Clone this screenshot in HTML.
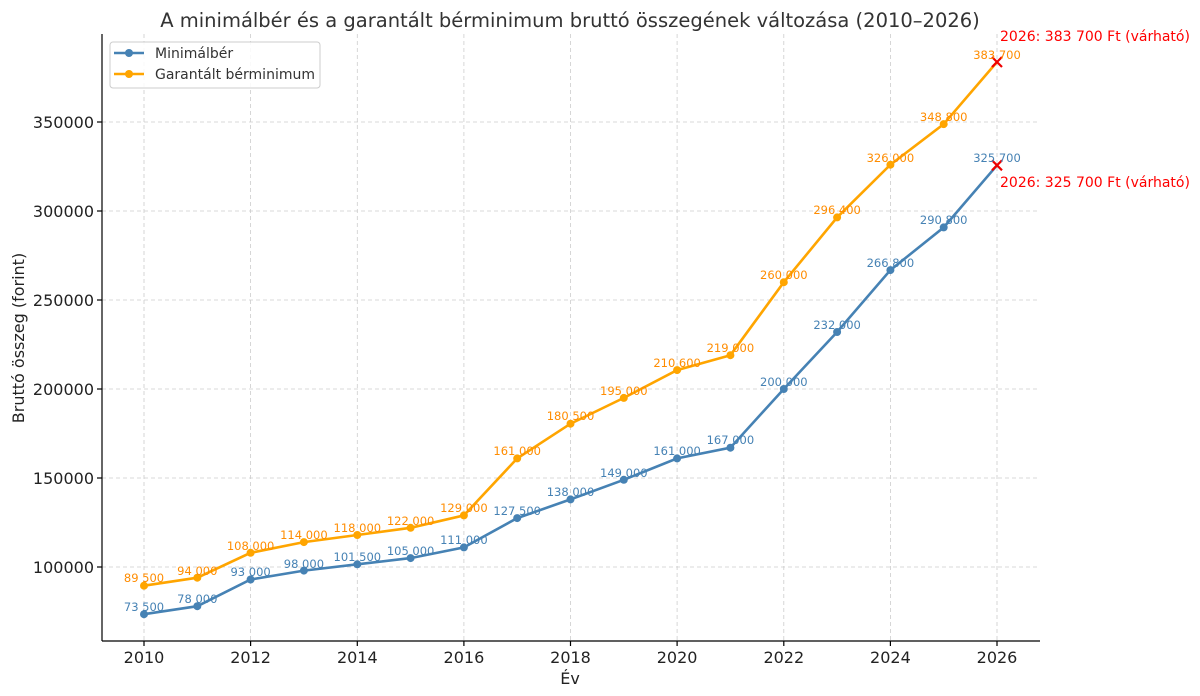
<!DOCTYPE html>
<html><head><meta charset="utf-8"><style>body{margin:0;background:#fff}svg{display:block;font-family:"DejaVu Sans","Liberation Sans",sans-serif}</style></head><body>
<svg width="1200" height="696" viewBox="0 0 1200 696">
<text x="570" y="27" font-size="19.5" text-anchor="middle" fill="#333">A minimálbér és a garantált bérminimum bruttó összegének változása (2010–2026)</text>
<g stroke="#ccc" stroke-dasharray="4,3" stroke-width="0.8">
<line x1="144" y1="34" x2="144" y2="641"/><line x1="250.6" y1="34" x2="250.6" y2="641"/><line x1="357.3" y1="34" x2="357.3" y2="641"/><line x1="463.9" y1="34" x2="463.9" y2="641"/><line x1="570.5" y1="34" x2="570.5" y2="641"/><line x1="677.1" y1="34" x2="677.1" y2="641"/><line x1="783.8" y1="34" x2="783.8" y2="641"/><line x1="890.4" y1="34" x2="890.4" y2="641"/><line x1="997" y1="34" x2="997" y2="641"/>
<line x1="102" y1="567" x2="1040" y2="567"/><line x1="102" y1="478" x2="1040" y2="478"/><line x1="102" y1="389" x2="1040" y2="389"/><line x1="102" y1="300" x2="1040" y2="300"/><line x1="102" y1="211" x2="1040" y2="211"/><line x1="102" y1="122" x2="1040" y2="122"/>
</g>
<g stroke="#000" stroke-width="1.2"><line x1="102" y1="34" x2="102" y2="641"/><line x1="102" y1="641" x2="1040" y2="641"/>
<line x1="144" y1="641" x2="144" y2="646"/><line x1="250.6" y1="641" x2="250.6" y2="646"/><line x1="357.3" y1="641" x2="357.3" y2="646"/><line x1="463.9" y1="641" x2="463.9" y2="646"/><line x1="570.5" y1="641" x2="570.5" y2="646"/><line x1="677.1" y1="641" x2="677.1" y2="646"/><line x1="783.8" y1="641" x2="783.8" y2="646"/><line x1="890.4" y1="641" x2="890.4" y2="646"/><line x1="997" y1="641" x2="997" y2="646"/>
<line x1="97" y1="567" x2="102" y2="567"/><line x1="97" y1="478" x2="102" y2="478"/><line x1="97" y1="389" x2="102" y2="389"/><line x1="97" y1="300" x2="102" y2="300"/><line x1="97" y1="211" x2="102" y2="211"/><line x1="97" y1="122" x2="102" y2="122"/></g>
<g font-size="16" fill="#222" text-anchor="middle"><text x="144" y="663">2010</text><text x="250.6" y="663">2012</text><text x="357.3" y="663">2014</text><text x="463.9" y="663">2016</text><text x="570.5" y="663">2018</text><text x="677.1" y="663">2020</text><text x="783.8" y="663">2022</text><text x="890.4" y="663">2024</text><text x="997" y="663">2026</text><text x="570" y="684">Év</text></g>
<g font-size="16" fill="#222" text-anchor="end"><text x="94" y="573">100000</text><text x="94" y="484">150000</text><text x="94" y="395">200000</text><text x="94" y="306">250000</text><text x="94" y="217">300000</text><text x="94" y="128">350000</text></g>
<text transform="translate(24,338) rotate(-90)" font-size="16" fill="#222" text-anchor="middle">Bruttó összeg (forint)</text>
<polyline fill="none" stroke="#4682b4" stroke-width="2.6" points="144,614.2 197.3,606.2 250.6,579.5 303.9,570.6 357.3,564.3 410.6,558.1 463.9,547.4 517.2,518.1 570.5,499.4 623.8,479.8 677.1,458.4 730.4,447.7 783.8,389 837.1,332 890.4,270.1 943.7,227.4 997,165.3"/>
<polyline fill="none" stroke="#ffa500" stroke-width="2.6" points="144,585.7 197.3,577.7 250.6,552.8 303.9,542.1 357.3,535 410.6,527.8 463.9,515.4 517.2,458.4 570.5,423.7 623.8,397.9 677.1,370.1 730.4,355.2 783.8,282.2 837.1,217.4 890.4,164.7 943.7,124.1 997,62"/>
<g fill="#4682b4"><circle cx="144" cy="614.2" r="4"/><circle cx="197.3" cy="606.2" r="4"/><circle cx="250.6" cy="579.5" r="4"/><circle cx="303.9" cy="570.6" r="4"/><circle cx="357.3" cy="564.3" r="4"/><circle cx="410.6" cy="558.1" r="4"/><circle cx="463.9" cy="547.4" r="4"/><circle cx="517.2" cy="518.1" r="4"/><circle cx="570.5" cy="499.4" r="4"/><circle cx="623.8" cy="479.8" r="4"/><circle cx="677.1" cy="458.4" r="4"/><circle cx="730.4" cy="447.7" r="4"/><circle cx="783.8" cy="389" r="4"/><circle cx="837.1" cy="332" r="4"/><circle cx="890.4" cy="270.1" r="4"/><circle cx="943.7" cy="227.4" r="4"/></g>
<g fill="#ffa500"><circle cx="144" cy="585.7" r="4"/><circle cx="197.3" cy="577.7" r="4"/><circle cx="250.6" cy="552.8" r="4"/><circle cx="303.9" cy="542.1" r="4"/><circle cx="357.3" cy="535" r="4"/><circle cx="410.6" cy="527.8" r="4"/><circle cx="463.9" cy="515.4" r="4"/><circle cx="517.2" cy="458.4" r="4"/><circle cx="570.5" cy="423.7" r="4"/><circle cx="623.8" cy="397.9" r="4"/><circle cx="677.1" cy="370.1" r="4"/><circle cx="730.4" cy="355.2" r="4"/><circle cx="783.8" cy="282.2" r="4"/><circle cx="837.1" cy="217.4" r="4"/><circle cx="890.4" cy="164.7" r="4"/><circle cx="943.7" cy="124.1" r="4"/></g>
<g stroke="#e00" stroke-width="2.2"><path d="M992,160.3l10,10m0,-10l-10,10"/><path d="M992,57l10,10m0,-10l-10,10"/></g>
<g font-size="11.5" fill="#4682b4" text-anchor="middle"><text x="144" y="611">73 500</text><text x="197.3" y="603">78 000</text><text x="250.6" y="576">93 000</text><text x="303.9" y="568">98 000</text><text x="357.3" y="561">101 500</text><text x="410.6" y="555">105 000</text><text x="463.9" y="544">111 000</text><text x="517.2" y="515">127 500</text><text x="570.5" y="496">138 000</text><text x="623.8" y="477">149 000</text><text x="677.1" y="455">161 000</text><text x="730.4" y="444">167 000</text><text x="783.8" y="386">200 000</text><text x="837.1" y="329">232 000</text><text x="890.4" y="267">266 800</text><text x="943.7" y="224">290 800</text><text x="997" y="162">325 700</text></g>
<g font-size="11.5" fill="#ff8c00" text-anchor="middle"><text x="144" y="582">89 500</text><text x="197.3" y="575">94 000</text><text x="250.6" y="550">108 000</text><text x="303.9" y="539">114 000</text><text x="357.3" y="532">118 000</text><text x="410.6" y="525">122 000</text><text x="463.9" y="512">129 000</text><text x="517.2" y="455">161 000</text><text x="570.5" y="420">180 500</text><text x="623.8" y="395">195 000</text><text x="677.1" y="367">210 600</text><text x="730.4" y="352">219 000</text><text x="783.8" y="279">260 000</text><text x="837.1" y="214">296 400</text><text x="890.4" y="162">326 000</text><text x="943.7" y="121">348 800</text><text x="997" y="59">383 700</text></g>
<g font-size="14" fill="#f00"><text x="1000" y="41">2026: 383 700 Ft (várható)</text><text x="1000" y="187">2026: 325 700 Ft (várható)</text></g>
<rect x="110" y="42" width="210" height="46" rx="3" fill="#fff" fill-opacity="0.85" stroke="#ccc"/>
<line x1="114" y1="53" x2="144" y2="53" stroke="#4682b4" stroke-width="2.6"/><circle cx="129" cy="53" r="4" fill="#4682b4"/>
<line x1="114" y1="74" x2="144" y2="74" stroke="#ffa500" stroke-width="2.6"/><circle cx="129" cy="74" r="4" fill="#ffa500"/>
<g font-size="14" fill="#333"><text x="155" y="58">Minimálbér</text><text x="155" y="79">Garantált bérminimum</text></g>
</svg></body></html>
